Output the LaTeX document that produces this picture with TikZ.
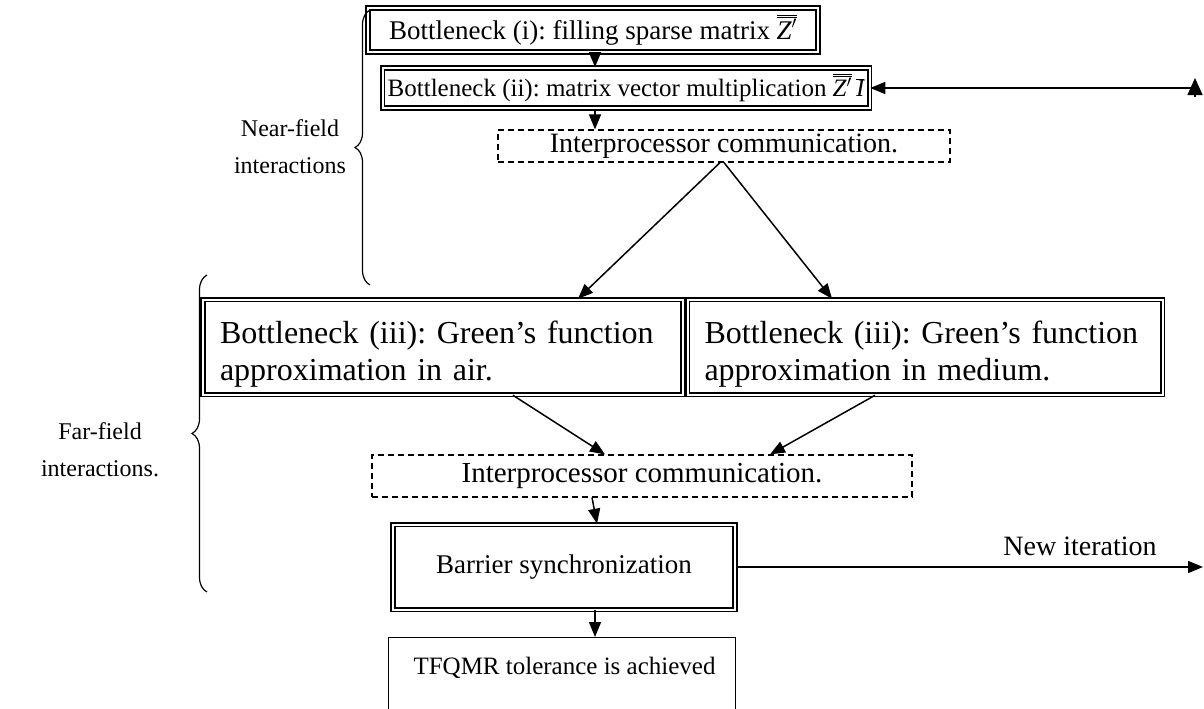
\documentclass[tikz,border=0pt]{standalone}
\usepackage{fontspec}
\setmainfont{Liberation Serif}
\frenchspacing
\usetikzlibrary{arrows.meta,decorations.pathreplacing,calc}
\begin{document}
\begin{tikzpicture}[x=1pt,y=-1pt,
  dbox/.style={draw, double, double distance=2pt, line width=1.6pt, inner sep=0pt},
  dashbox/.style={draw, dash pattern=on 6pt off 4pt, line width=1.2pt, inner sep=0pt},
  arr/.style={line width=1.5pt, -{Triangle[length=15pt,width=12pt]}},
  brc/.style={decorate, decoration={brace, amplitude=15pt}, line width=1.2pt},
  lbl/.style={font=\fontsize{24}{37}\selectfont, align=center}]
\useasboundingbox (0,0) rectangle (1204,709);

\node[dbox, minimum width=450pt, minimum height=44pt, font=\fontsize{27}{30}\selectfont] (b1) at (593,30)
  {Bottleneck (i): filling sparse matrix $\overline{\overline{\mbox{\itshape Z}'}}$};
\node[dbox, minimum width=487pt, minimum height=40pt, font=\fontsize{25}{30}\selectfont] (b2) at (626,88)
  {Bottleneck (ii): matrix vector multiplication $\overline{\overline{\mbox{\itshape Z}'}}\,\overline{\mbox{\itshape I}}$};
\node[dashbox, minimum width=452pt, minimum height=32pt, font=\fontsize{28}{30}\selectfont] (d1) at (724,146) {Interprocessor communication.};
\node[dbox, minimum width=480pt, minimum height=95pt, align=left, text width=446pt, font=\fontsize{32}{37}\selectfont] (b3a) at (443,347)
  {\rule{0pt}{37pt}Bottleneck (iii): Green’s function\\approximation in air.};
\node[dbox, minimum width=475pt, minimum height=95pt, align=left, text width=441pt, font=\fontsize{32}{37}\selectfont] (b3b) at (925,347)
  {\rule{0pt}{37pt}Bottleneck (iii): Green’s function\\approximation in medium.};
\node[dashbox, minimum width=540pt, minimum height=42pt, font=\fontsize{29}{32}\selectfont] (d2) at (642,476) {Interprocessor communication.};
\node[dbox, minimum width=342pt, minimum height=85pt, font=\fontsize{27}{32}\selectfont] (bs) at (564,567) {Barrier synchronization};
\draw[line width=1pt] (388,720) |- (735,637) -- (735,720);
\node[font=\fontsize{25}{30}\selectfont, anchor=west] (tf) at (410,668) {TFQMR tolerance is achieved};
\coordinate (tftop) at (595,637);

% connectors
\draw[arr] (b1.south -| 595,0) -- (b2.north -| 595,0);
\draw[arr] (b2.south -| 595,0) -- (d1.north -| 595,0);
\draw[arr] (d1.south -| 720,0) -- (b3a.north -| 578,0);
\draw[arr] (d1.south -| 724,0) -- (b3b.north -| 832,0);
\draw[arr] (b3a.south -| 513,0) -- (d2.north -| 605,0);
\draw[arr] (b3b.south -| 875,0) -- (d2.north -| 770,0);
\draw[arr] (d2.south -| 592,0) -- (bs.north -| 597,0);
\draw[arr] (bs.south -| 595,0) -- (tftop);
\coordinate (ni) at (1203,567);
\draw[arr] (bs.east) -- (ni);
\node[font=\fontsize{28}{32}\selectfont] (nil) at (1080,546) {New iteration};
\coordinate (fb) at (1195,88);
\draw[arr] (fb) -- (b2.east);
\coordinate (fbtip) at (1195,78);
\draw[line width=1.5pt, -{Triangle[length=17pt,width=15pt]}] (1195,97) -- (fbtip);

% braces
\draw[brc] (370,285) -- (370,10);
\node[lbl] (nf) at (290,147) {Near-field\\interactions};
\draw[brc] (207,592) -- (207,275);
\node[lbl] (ff) at (100,450) {Far-field\\interactions.};
\end{tikzpicture}
\end{document}
